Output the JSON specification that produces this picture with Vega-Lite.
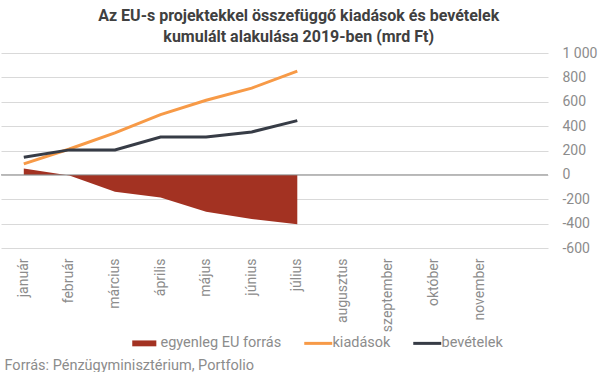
{
  "$schema": "https://vega.github.io/schema/vega-lite/v6.json",
  "width": 547,
  "height": 195,
  "padding": {"left": 0, "top": 8, "right": 5, "bottom": 0},
  "autosize": {"type": "pad"},
  "config": {"view": {"stroke": null}, "font": "Roboto"},
  "title": {
    "text": ["Az EU-s projektekkel összefüggő kiadások és bevételek", "kumulált alakulása 2019-ben (mrd Ft)"],
    "font": "Roboto",
    "fontSize": 16,
    "fontWeight": "bold",
    "color": "#404040",
    "lineHeight": 21,
    "anchor": "middle",
    "frame": "bounds",
    "offset": 1
  },
  "data": {
    "values": [
      {"month": "január", "series": "egyenleg EU forrás", "value": 52},
      {"month": "február", "series": "egyenleg EU forrás", "value": -5},
      {"month": "március", "series": "egyenleg EU forrás", "value": -138},
      {"month": "április", "series": "egyenleg EU forrás", "value": -185},
      {"month": "május", "series": "egyenleg EU forrás", "value": -302},
      {"month": "június", "series": "egyenleg EU forrás", "value": -362},
      {"month": "július", "series": "egyenleg EU forrás", "value": -405},
      {"month": "január", "series": "kiadások", "value": 90},
      {"month": "február", "series": "kiadások", "value": 212},
      {"month": "március", "series": "kiadások", "value": 345},
      {"month": "április", "series": "kiadások", "value": 495},
      {"month": "május", "series": "kiadások", "value": 612},
      {"month": "június", "series": "kiadások", "value": 712},
      {"month": "július", "series": "kiadások", "value": 852},
      {"month": "január", "series": "bevételek", "value": 145},
      {"month": "február", "series": "bevételek", "value": 205},
      {"month": "március", "series": "bevételek", "value": 205},
      {"month": "április", "series": "bevételek", "value": 310},
      {"month": "május", "series": "bevételek", "value": 310},
      {"month": "június", "series": "bevételek", "value": 352},
      {"month": "július", "series": "bevételek", "value": 445}
    ]
  },
  "encoding": {
    "x": {
      "field": "month",
      "type": "nominal",
      "sort": null,
      "scale": {
        "type": "band",
        "domain": ["január", "február", "március", "április", "május", "június", "július", "augusztus", "szeptember", "október", "november", "december"],
        "paddingInner": 0,
        "paddingOuter": 0
      },
      "axis": {
        "title": "Forrás: Pénzügyminisztérium, Portfolio",
        "titleFont": "Roboto",
        "titleFontSize": 14.5,
        "titleFontWeight": "normal",
        "titleColor": "#8c8c8c",
        "titleAnchor": "start",
        "titleAlign": "left",
        "titleBaseline": "middle",
        "titleX": 3,
        "titleY": 117,
        "labelAngle": -90,
        "labelFontSize": 14,
        "labelColor": "#8c8c8c",
        "labelPadding": 10,
        "labelExpr": "datum.value === 'december' ? '' : datum.value",
        "domain": false,
        "ticks": false,
        "grid": false
      }
    },
    "y": {
      "field": "value",
      "type": "quantitative",
      "scale": {"domain": [-600, 1000], "nice": false, "zero": false},
      "axis": {
        "orient": "right",
        "title": null,
        "values": [-600, -400, -200, 0, 200, 400, 600, 800, 1000],
        "labelExpr": "datum.value == 1000 ? '1 000' : toString(datum.value)",
        "labelAlign": "left",
        "labelPadding": 14,
        "labelFontSize": 14,
        "labelColor": "#8c8c8c",
        "domain": false,
        "ticks": false,
        "grid": true,
        "gridColor": "#d9d9d9",
        "gridWidth": 1
      }
    },
    "color": {
      "field": "series",
      "type": "nominal",
      "scale": {
        "domain": ["egyenleg EU forrás", "kiadások", "bevételek"],
        "range": ["#A33222", "#F79A47", "#373C46"]
      },
      "legend": {
        "orient": "none",
        "legendX": 138,
        "legendY": 283,
        "direction": "horizontal",
        "title": null,
        "symbolSize": 784,
        "labelFontSize": 14.5,
        "labelColor": "#8c8c8c",
        "labelOffset": 7,
        "columnPadding": 16,
        "encode": {
          "symbols": {
            "update": {
              "shape": {"signal": "datum.value === 'egyenleg EU forrás' ? 'M-1,-0.21H0.72V0.21H-1Z' : 'M-1,0H1'"},
              "fill": {"signal": "datum.value === 'egyenleg EU forrás' ? '#A33222' : 'transparent'"},
              "stroke": {"signal": "datum.value === 'kiadások' ? '#F79A47' : (datum.value === 'bevételek' ? '#373C46' : '#A33222')"},
              "strokeWidth": {"signal": "datum.value === 'egyenleg EU forrás' ? 0 : 3"},
              "opacity": {"value": 1},
              "fillOpacity": {"value": 1},
              "strokeOpacity": {"value": 1}
            }
          }
        }
      }
    }
  },
  "layer": [
    {
      "transform": [{"filter": "datum.series === 'egyenleg EU forrás'"}],
      "mark": {"type": "area", "opacity": 1},
      "encoding": {"y2": {"datum": 0}}
    },
    {
      "data": {"values": [{"zero": 0}]},
      "mark": {"type": "rule", "color": "#8c8c8c", "strokeWidth": 1},
      "encoding": {"y": {"field": "zero", "type": "quantitative"}, "x": null, "color": null}
    },
    {
      "transform": [{"filter": "datum.series !== 'egyenleg EU forrás'"}],
      "mark": {"type": "line", "strokeWidth": 3},
      "encoding": {}
    }
  ]
}
